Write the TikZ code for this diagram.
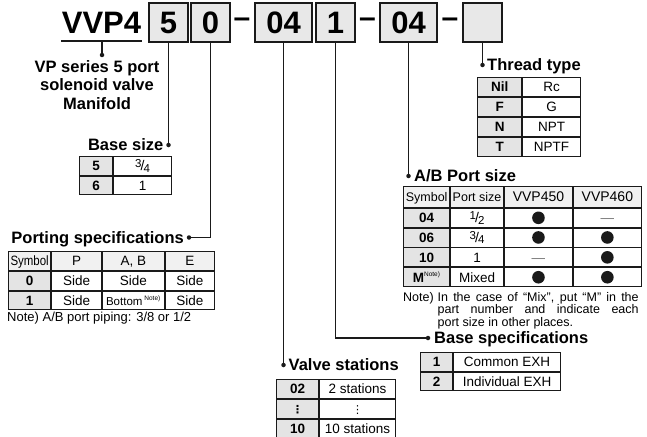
\documentclass[tikz,border=0pt]{standalone}
\usepackage{graphicx}
\usepackage{fontspec}
\setmainfont{Liberation Sans}
\newfontfamily\djv{DejaVu Sans}
\usetikzlibrary{positioning,matrix}
\definecolor{cBox}{HTML}{E8E8E8}
\definecolor{cSym}{HTML}{E4E4E4}
\definecolor{cHead}{HTML}{F1F1F1}
\definecolor{cLine}{HTML}{1A1A1A}
\newcommand{\tfs}{\fontsize{13.5}{14}\selectfont}
\newcommand{\nte}{\textsuperscript{\mdseries\fontsize{6.5}{7}\selectfont Note)}}
\newcommand{\symb}{\scalebox{0.85}[1]{Symbol}}
\newcommand{\frc}[2]{\raisebox{3pt}{\fontsize{11.5}{11.5}\selectfont #1}\kern-0.8pt
  {\fontsize{14}{14}\selectfont /}\kern-1pt\raisebox{-1.5pt}{\fontsize{11.5}{11.5}\selectfont #2}}
\newcommand{\vdt}{{\djv\fontsize{11}{11}\selectfont ⋮}}
\tikzset{
  topbox/.style={draw=cLine, line width=1.4pt, fill=cBox, minimum height=39,
                 inner sep=0pt, text height=22.5pt, text depth=0pt,
                 font=\bfseries\fontsize{31}{31}\selectfont},
  dashn/.style={inner sep=0pt, font=\bfseries\fontsize{30}{30}\selectfont},
  ttl/.style={inner sep=0pt, text height=11.8pt, text depth=0pt,
              font=\bfseries\fontsize{16.5}{18}\selectfont},
  tbl/.style={matrix of nodes, nodes in empty cells, anchor=north west,
              inner sep=0pt, column sep=0pt, row sep=0pt,
              nodes={draw=cLine, line width=0.9pt, outer sep=0pt, inner sep=0pt,
                     minimum height=19, text height=9.6pt, text depth=0pt,
                     font=\tfs, anchor=center},
              column 1/.append style={nodes={fill=cSym, font=\tfs\bfseries}}},
  hdr/.style={row 1/.append style={nodes={fill=cHead, font=\tfs}}},
  cw/.style 2 args={column #1/.append style={nodes={minimum width=#2}}},
  rh/.style 2 args={row #1/.append style={nodes={minimum height=#2}}},
  ln/.style={draw=cLine, line width=1.3pt},
  dot/.style={circle, fill=cLine, inner sep=0pt, minimum size=4.5pt},
  nt/.style={inner sep=0pt, font=\fontsize{12.5}{11.6}\selectfont},
}

\begin{document}
\begin{tikzpicture}[x=1pt, y=-1pt]
  \useasboundingbox (0,0) rectangle (647,436);

  % part number
  \node[inner sep=0pt, text height=22pt, text depth=0pt,
        font=\bfseries\fontsize{31}{31}\selectfont] (vvp) at (101.5,22.5) {VVP4};
  \node[topbox, minimum width=39] (b5)  at (168.5,22.5) {5};
  \node[topbox, minimum width=39] (b0)  at (210.5,22.5) {0};
  \node[dashn] (d1) at (242,22.5) {--};
  \node[topbox, minimum width=57] (b04) at (283.5,22.5) {04};
  \node[topbox, minimum width=39] (b1)  at (335.5,22.5) {1};
  \node[dashn] (d2) at (367.5,22.5) {--};
  \node[topbox, minimum width=57] (b04b) at (408.5,22.5) {04};
  \node[dashn] (d3) at (450,22.5) {--};
  \node[topbox, minimum width=39] (bth) at (482.5,22.5) {};

  % series
  \coordinate (ulA) at (61,41);
  \coordinate (ulB) at (142,41);
  \draw[ln, line width=1.6pt] (ulA) -- (ulB);
  \node[dot] (dvp) at (102,55) {};
  \draw[ln] (102,41) -- (dvp);
  \node[anchor=north, inner sep=0pt, align=center,
        font=\bfseries\fontsize{16.5}{18.5}\selectfont] (series) at (97,60)
    {VP series 5 port\\solenoid valve\\Manifold};

  % thread type
  \node[dot] (dth) at (482.5,65) {};
  \node[ttl, anchor=west] (tth) at (487,65) {Thread type};
  \draw[ln] (bth.south) -- (dth);
  \matrix[tbl, cw={1}{44}, cw={2}{58}] (thr) at (477,77) {
    Nil & Rc \\
    F   & G \\
    N   & NPT \\
    T   & NPTF \\
  };

  % base size
  \node[dot] (dbs) at (168.5,145) {};
  \node[ttl, anchor=east] (tbs) at (163.5,145) {Base size};
  \draw[ln] (b5.south) -- (dbs);
  \matrix[tbl, cw={1}{33}, cw={2}{58}, rh={1}{18.5}, rh={2}{18.5}] (bs) at (79,156) {
    5 & \frc{3}{4} \\
    6 & 1 \\
  };

  % porting specifications
  \node[dot] (dps) at (189,237.5) {};
  \node[ttl, anchor=east] (tps) at (184,237.5) {Porting specifications};
  \draw[ln] (b0.south) |- (dps);
  \matrix[tbl, hdr, cw={1}{42}, cw={2}{50}, cw={3}{62}, cw={4}{49}, rh={3}{18}] (ps) at (8,251) {
    |[font=\tfs, fill=cHead]| \symb & P & A, B & E \\
    0 & Side & Side & Side \\
    1 & Side & |[font=\fontsize{11.5}{12}\selectfont]| Bottom\,\nte & Side \\
  };
  \node[nt, font=\fontsize{13}{14}\selectfont, anchor=base west] (psnote) at (7,321)
    {Note) A/B port piping: 3/8 or 1/2};

  % A/B port size
  \node[dot] (dab) at (408.5,176) {};
  \node[ttl, anchor=west] (tab) at (414,176) {A/B Port size};
  \draw[ln] (b04b.south) -- (dab);
  \matrix[tbl, hdr, cw={1}{46}, cw={2}{53}, cw={3}{68}, cw={4}{68}, rh={1}{21}, rh={2}{18.5}] (ab) at (403,186) {
    |[font=\fontsize{12.5}{13}\selectfont, fill=cHead]| Symbol
      & |[font=\fontsize{12.5}{13}\selectfont]| Port size
      & |[font=\fontsize{14}{15}\selectfont]| VVP450
      & |[font=\fontsize{14}{15}\selectfont]| VVP460 \\
    04 & \frc{1}{2} & & |[text=black!55]| --- \\
    06 & \frc{3}{4} & & \\
    10 & 1 & |[text=black!55]| --- & \\
    M\nte & Mixed & & \\
  };
  \foreach \c in {ab-2-3, ab-3-3, ab-3-4, ab-4-4, ab-5-3, ab-5-4}
    \fill[cLine] (\c) circle (6.3);
  \node[nt, anchor=north west] (abnote) at (403,292) {Note)};
  \node[nt, anchor=north west, text width=201, align=justify] (abnotetxt)
    at ([xshift=3.5]abnote.north east)
    {In the case of “Mix”, put “M” in the\linebreak
     part number and indicate each\linebreak
     port size in other places.};

  % base specifications
  \node[dot] (dbsp) at (428,338) {};
  \node[ttl, anchor=west] (tbsp) at (434,338) {Base specifications};
  \draw[ln] (b1.south) |- (dbsp);
  \matrix[tbl, cw={1}{32}, cw={2}{107}, rh={2}{18}] (bsp) at (420,352) {
    1 & Common EXH \\
    2 & Individual EXH \\
  };

  % valve stations
  \node[dot] (dvs) at (283.5,365) {};
  \node[ttl, anchor=west] (tvs) at (288.5,365) {Valve stations};
  \draw[ln] (b04.south) -- (dvs);
  \matrix[tbl, cw={1}{42}, cw={2}{76}, rh={3}{18}] (vs) at (276,379) {
    02 & 2 stations \\
    \vdt & \vdt \\
    10 & 10 stations \\
  };
\end{tikzpicture}
\end{document}
